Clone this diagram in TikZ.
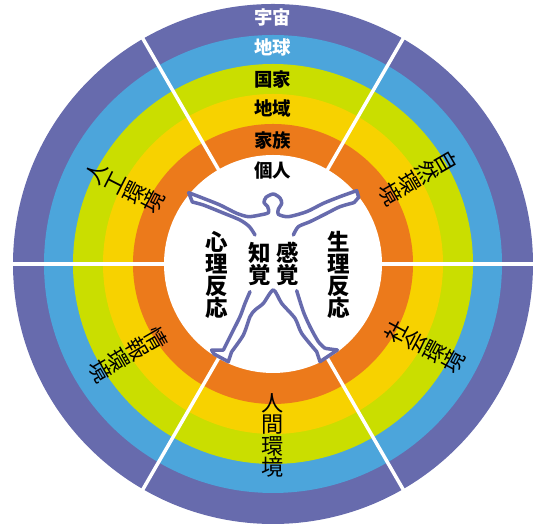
\documentclass[tikz,border=0pt]{standalone}
\usepackage{fontspec}
\newfontfamily\cjk{Noto Sans CJK JP}
\usetikzlibrary{positioning}
\definecolor{ringspace}{RGB}{103,107,173}
\definecolor{ringearth}{RGB}{76,165,219}
\definecolor{ringnation}{RGB}{202,222,0}
\definecolor{ringregion}{RGB}{247,210,0}
\definecolor{ringkin}{RGB}{236,122,27}

\begin{document}
\begin{tikzpicture}[
    ring/.style={font=\cjk\bfseries\fontsize{10.5}{10.5}\selectfont, inner sep=0pt},
    sector/.style={align=center, inner sep=0pt, font=\cjk\fontsize{12.6}{12.2}\selectfont},
    inner/.style={align=center, inner sep=0pt, font=\cjk\bfseries\fontsize{12.8}{12.6}\selectfont},
    body/.style={draw=ringspace, line width=0.07cm, line join=round, line cap=round}
  ]
    \useasboundingbox (-5.46, -5.24) rectangle (5.42, 5.28);

    % rings, outermost first
    \fill[ringspace] (0, 0) circle (5.2);
    \fill[ringearth] (0, 0) circle (4.58);
    \fill[ringnation] (0, 0) circle (4.0);
    \fill[ringregion] (0, 0) circle (3.4);
    \fill[ringkin] (0, 0) circle (2.8);
    \fill[white] (0, 0) circle (2.18);

    % six spokes
    \foreach \a in {0, 60, ..., 300} {
      \draw[white, line width=0.07cm] (\a:2.15) -- (\a:5.3);
    }

    \node[ring, white] (uchu) at (0, 4.92) {宇宙};
    \node[ring, white] (chikyu) at (0, 4.34) {地球};
    \node[ring] (kokka) at (0, 3.68) {国家};
    \node[ring] (chiiki) at (0, 3.12) {地域};
    \node[ring] (kazoku) at (0, 2.48) {家族};
    \node[ring] (kojin) at (0, 1.86) {個人};

    \node[sector, rotate=-60] (shizen) at (30.8:3.38) {自\\然\\環\\境};
    \node[sector, rotate=62] (shakai) at (-28.6:3.46) {社\\会\\環\\境};
    \node[sector] (ningen) at (0, -3.43) {人\\間\\環\\境};
    \node[sector, rotate=-60] (joho) at (212:3.42) {情\\報\\環\\境};
    \node[sector, rotate=63] (jinko) at (152.7:3.33) {人\\工\\環\\境};

    \node[inner] (shinri) at (-1.12, -0.22) {心\\理\\反\\応};
    \node[inner] (seiri) at (1.32, -0.22) {生\\理\\反\\応};
    \node[inner] (chikaku) at (-0.26, 0.0) {知\\覚};
    \node[inner] (kankaku) at (0.30, 0.0) {感\\覚};

    % figure outline, arms and head
    \begin{scope}[shift={(-2.26, 1.88)}, x=0.00667cm, y=-0.00667cm]
      \draw[body] plot[smooth, tension=0.45] coordinates {
        (285,195) (268,170) (240,150) (180,125) (130,105) (97,96)} -- (86,68)
        plot[smooth, tension=0.45] coordinates {
        (86,68) (130,85) (180,105) (230,130) (265,140) (300,135) (325,128)
        (323,110) (312,98) (318,82) (340,72) (360,84) (365,100) (355,118)
        (355,133) (385,140) (440,125) (490,100) (540,80) (590,62)}
        -- (596,82) -- (582,98)
        plot[smooth, tension=0.45] coordinates {
        (582,98) (540,110) (500,130) (450,155) (415,170) (400,195)};
      % legs
      \draw[body] plot[smooth, tension=0.45] coordinates {
        (270,365) (255,400) (240,440) (215,490) (190,540)} -- (155,540)
        -- (162,552) -- (205,575) -- (215,545)
        plot[smooth, tension=0.45] coordinates {
        (215,545) (250,495) (270,440) (285,420) (310,400) (340,360)
        (365,400) (405,445) (425,490) (470,545)} -- (480,575) -- (532,540)
        -- (495,535)
        plot[smooth, tension=0.45] coordinates {
        (495,535) (475,515) (450,470) (430,425) (410,362)};
    \end{scope}
\end{tikzpicture}
\end{document}
